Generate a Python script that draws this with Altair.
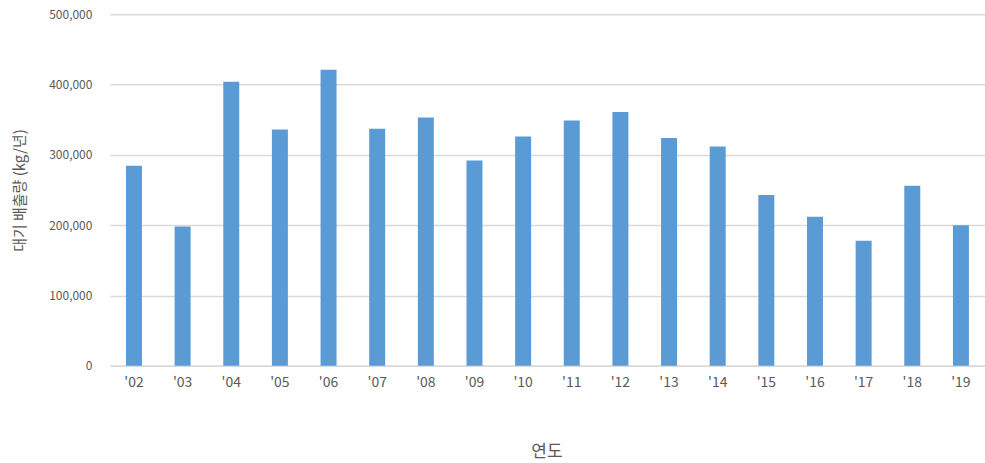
import altair as alt
import pandas as pd

years = ["'02", "'03", "'04", "'05", "'06", "'07", "'08", "'09", "'10",
         "'11", "'12", "'13", "'14", "'15", "'16", "'17", "'18", "'19"]
values = [284500, 198000, 404000, 336000, 421000, 337000, 353000, 292000, 326000,
          349000, 361000, 324000, 312000, 243000, 212000, 178000, 256000, 200000]

df = pd.DataFrame({"year": years, "value": values})

FONT = "Noto Sans CJK KR"
TXT = "#595959"

chart = alt.Chart(df).mark_bar(color="#5b9bd5", size=16).encode(
    x=alt.X("year:N", sort=years,
            scale=alt.Scale(paddingInner=0.67, paddingOuter=0.33),
            axis=alt.Axis(title="연도", labelAngle=0, ticks=False,
                          domainColor="#d9d9d9", domainWidth=1.5,
                          labelFont=FONT, labelFontSize=14, labelColor=TXT,
                          labelPadding=10,
                          titleFont=FONT, titleFontSize=17, titleColor=TXT,
                          titleFontWeight="normal",
                          titleX=437, titleY=86, titleBaseline="middle")),
    y=alt.Y("value:Q",
            scale=alt.Scale(domain=[0, 500000], nice=False),
            axis=alt.Axis(title="대기 배출량 (kg/년)", values=[0, 100000, 200000, 300000, 400000, 500000],
                          format=",.0f", ticks=False, domain=False,
                          gridColor="#d9d9d9", gridWidth=1.5,
                          labelFont=FONT, labelFontSize=12, labelColor=TXT,
                          labelPadding=18,
                          titleFont=FONT, titleFontSize=15, titleColor=TXT,
                          titleFontWeight="normal",
                          titleX=-90, titleY=176, titleAlign="center",
                          titleBaseline="middle")),
).properties(
    width=876, height=352,
    autosize=alt.AutoSizeParams(type="none"),
    padding={"left": 110, "top": 14, "right": 0, "bottom": 97},
).configure_view(stroke=None)

chart.save("out.html", embed_options={"renderer": "svg", "actions": False})
